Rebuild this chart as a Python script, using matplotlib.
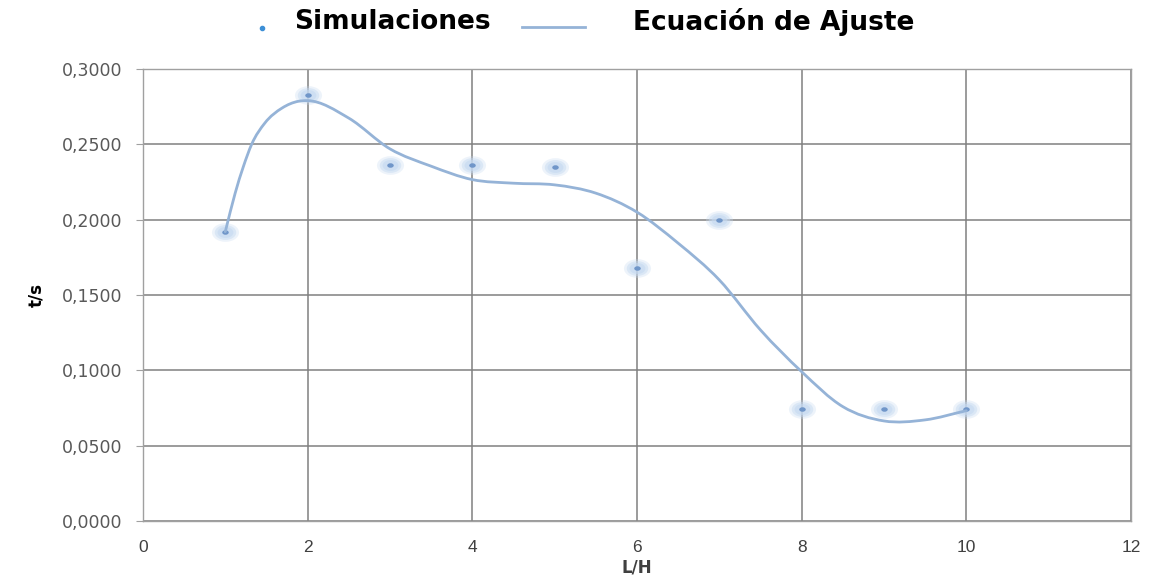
import numpy as np
import matplotlib
matplotlib.use("Agg")
import matplotlib.pyplot as plt
from matplotlib.path import Path
from matplotlib.patches import PathPatch
from matplotlib.lines import Line2D
from matplotlib.transforms import Affine2D
from matplotlib.ticker import FuncFormatter, MultipleLocator

# simulation results
sim_x = [1, 2, 3, 4, 5, 6, 7, 8, 9, 10]
sim_y = [0.192, 0.283, 0.236, 0.236, 0.235, 0.168, 0.200, 0.074, 0.074, 0.074]

# fitted equation, sampled along L/H
fit_x = [1, 1.12, 1.22, 1.32, 1.48, 1.69, 1.89, 2, 2.5, 3, 3.5, 4, 4.5, 5, 5.5, 6,
         6.5, 7, 7.5, 8, 8.5, 9, 9.5, 10]
fit_y = [0.192, 0.2176, 0.2353, 0.2500, 0.2641, 0.2741, 0.2786, 0.2790, 0.2674, 0.2470,
         0.2355, 0.2266, 0.2242, 0.2231, 0.2176, 0.2050, 0.1844, 0.1600, 0.1268, 0.0991,
         0.0759, 0.0664, 0.0671, 0.0732]

x_ticks = [0, 2, 4, 6, 8, 10, 12]

line_col = "#95b3d7"
halo_col = "#c5d9f1"
dot_col = "#7096c9"


def smooth_path(xs, ys):
    # hermite curve through the samples, written as cubic beziers
    x = np.asarray(xs, float)
    y = np.asarray(ys, float)
    m = np.gradient(y, x)
    verts = [(x[0], y[0])]
    codes = [Path.MOVETO]
    for i in range(len(x) - 1):
        h = (x[i + 1] - x[i]) / 3.0
        verts += [(x[i] + h, y[i] + m[i] * h),
                  (x[i + 1] - h, y[i + 1] - m[i + 1] * h),
                  (x[i + 1], y[i + 1])]
        codes += [Path.CURVE4] * 3
    return Path(verts, codes)


fig = plt.figure(figsize=(11.51, 5.77), dpi=100)
ax = fig.add_axes([0.1242, 0.0971, 0.8584, 0.7833])

ax.set_xlim(0, 12)
ax.set_ylim(0, 0.3)
ax.set_xticks(x_ticks)
ax.yaxis.set_major_locator(MultipleLocator(0.05))
ax.yaxis.set_major_formatter(FuncFormatter(lambda v, p: f"{v:.4f}".replace(".", ",")))

ax.grid(True, color="#808080", linewidth=1.1)
ax.set_axisbelow(True)
for s in ax.spines.values():
    s.set_color("#a0a0a0")
    s.set_linewidth(1.0)

ax.tick_params(axis="y", length=5, color="#a0a0a0", pad=10, labelsize=12.5, labelcolor="#595959")
ax.tick_params(axis="x", length=0, pad=14, labelsize=12.5, labelcolor="#404040")
for lab in ax.get_xticklabels():
    lab.set_family("Liberation Sans")

ax.set_ylabel("t/s", fontsize=12, fontweight="bold", labelpad=12)
ax.set_xlabel("L/H", fontsize=12, fontweight="bold", color="#404040", labelpad=2)

# glowing markers, a little wider than tall
oval = Path.unit_circle().transformed(Affine2D().scale(1.45, 1.0))
for size, alpha in [(380, 0.30), (240, 0.45), (130, 0.6)]:
    ax.scatter(sim_x, sim_y, s=size, marker=oval, color=halo_col, alpha=alpha,
               linewidths=0, zorder=3)
ax.scatter(sim_x, sim_y, s=22, marker=oval, color=dot_col, linewidths=0, zorder=4)

fit = PathPatch(smooth_path(fit_x, fit_y), fill=False, edgecolor=line_col,
                linewidth=2.0, zorder=5, capstyle="round")
ax.add_patch(fit)

# legend strip along the top
W, H = 1151.0, 577.0
ly = 1 - 22 / H
fig.add_artist(Line2D([262 / W], [1 - 28 / H], marker="o", markersize=3,
                      color="#3d8fd6", linestyle="none"))
fig.text(392 / W, ly, "Simulaciones", fontsize=19, fontweight="bold",
         va="center", ha="center")
fig.add_artist(Line2D([522 / W, 585 / W], [1 - 27 / H, 1 - 27 / H],
                      color=line_col, linewidth=2.0))
fig.text(774 / W, ly, "Ecuación de Ajuste", fontsize=19, fontweight="bold",
         va="center", ha="center")

fig.savefig("out.png", dpi=100)
